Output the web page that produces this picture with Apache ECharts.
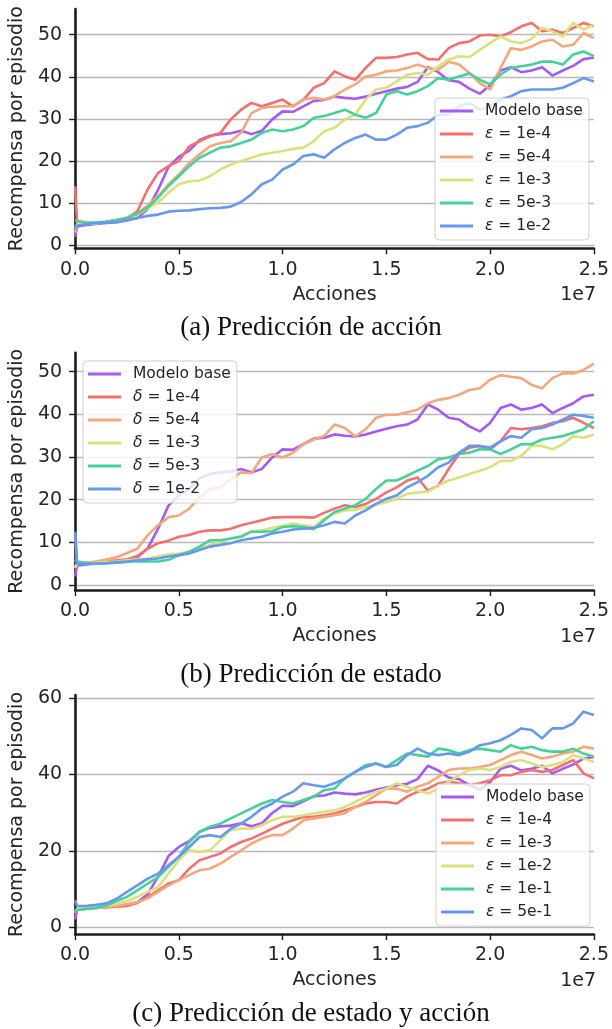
<!DOCTYPE html>
<html>
<head>
<meta charset="utf-8">
<script src="https://cdn.jsdelivr.net/npm/echarts@6/dist/echarts.min.js"></script>
<style>
  html, body { margin: 0; padding: 0; background: #fff; }
  #chart { width: 612px; height: 1029px; }
</style>
</head>
<body>
<div id="chart"></div>
<script>
// ---------------- DATA ----------------
// x positions (in units of 1e7 actions)
const X_VALUES = [0, 0.01, 0.05, 0.1, 0.15, 0.2, 0.25, 0.3, 0.35, 0.4, 0.45, 0.5, 0.55, 0.6, 0.65, 0.7, 0.75, 0.8, 0.85, 0.9, 0.95,
  1.0, 1.05, 1.1, 1.15, 1.2, 1.25, 1.3, 1.35, 1.4, 1.45, 1.5, 1.55, 1.6, 1.65, 1.7, 1.75, 1.8, 1.85, 1.9, 1.95,
  2.0, 2.05, 2.1, 2.15, 2.2, 2.25, 2.3, 2.35, 2.4, 2.45, 2.5];

const X_TICKS = [0, 0.5, 1.0, 1.5, 2.0, 2.5];
const Y_TICKS_A = [0, 10, 20, 30, 40, 50];
const Y_TICKS_B = [0, 10, 20, 30, 40, 50];
const Y_TICKS_C = [0, 20, 40, 60];

const CAPTIONS = ['(a) Predicción de acción', '(b) Predicción de estado', '(c) Predicción de estado y acción'];
const X_NAME = 'Acciones';
const Y_NAME = 'Recompensa por episodio';
const X_OFFSET_TEXT = '1e7';

const LABELS_A = ['Modelo base', 'ε = 1e-4', 'ε = 5e-4', 'ε = 1e-3', 'ε = 5e-3', 'ε = 1e-2'];
const LABELS_B = ['Modelo base', 'δ = 1e-4', 'δ = 5e-4', 'δ = 1e-3', 'δ = 5e-3', 'δ = 1e-2'];
const LABELS_C = ['Modelo base', 'ε = 1e-4', 'ε = 1e-3', 'ε = 1e-2', 'ε = 1e-1', 'ε = 5e-1'];

// Modelo base (shared by the three panels)
const BASE = [2, 4.5, 4.8, 5.1, 5.3, 5.5, 5.9, 6.5, 8.6, 13.2, 18.6, 21, 22.5, 25, 26, 26.4, 26.6, 27.2, 26.4, 27.2, 29.9,
  31.8, 31.7, 33, 34.3, 34.5, 35.3, 35, 34.8, 35.3, 36, 36.6, 37.2, 37.6, 38.8, 42.3, 41.1, 39.2, 38.8, 37.2, 36,
  38, 41.5, 42.3, 41.1, 41.5, 42.3, 40.3, 41.5, 42.6, 44.2, 44.6];

// (a) Predicción de acción
const A_1E4 = [14, 5, 5.1, 5.3, 5.6, 6, 6.5, 8.1, 13.3, 17.2, 18.8, 20, 23.5, 24.7, 25.9, 26.7, 29.9, 32.2, 33.8, 33, 33.8,
  34.6, 33, 34.6, 37.4, 38.5, 41.3, 40.1, 39.3, 42.1, 44.5, 44.5, 44.7, 45.3, 45.7, 44.2, 44.1, 46.8, 48, 48.4, 49.8,
  50, 49.6, 50.6, 52, 52.8, 50.8, 51.2, 50.4, 51.6, 52.8, 52];
const A_5E4 = [3, 5, 5.1, 5.3, 5.6, 6, 6.6, 7.5, 9.5, 11.7, 14.5, 16.8, 19.6, 21.6, 23.5, 24.3, 24.7, 26.7, 31.4, 32.6, 32.9,
  33, 33, 34.6, 35, 34.6, 35.4, 37, 38.2, 40.1, 40.5, 41.3, 41.5, 42.1, 42.9, 42.1, 41.7, 43.6, 42.9, 40.9, 38.5,
  37, 42.1, 46.8, 46.4, 47.2, 48.4, 48.8, 47.2, 47.6, 50.4, 49.2];
const A_1E3 = [4, 5, 5.1, 5.2, 5.6, 6, 6.5, 7.2, 8.8, 10.2, 12.5, 14.5, 15.2, 15.4, 16.4, 18, 19.2, 20, 20.8, 21.6, 22,
  22.4, 22.9, 23.2, 24.7, 27.1, 27.9, 29.9, 31, 34.6, 37, 37.4, 38.9, 40.5, 40.9, 40.5, 42.5, 44.1, 44.9, 44.7, 46.4,
  48, 49.6, 48.4, 48, 49, 51.6, 50.8, 49.6, 52.8, 51.2, 52.4];
const A_5E3 = [6, 5.8, 5.5, 5.4, 5.6, 6, 6.5, 7.5, 9, 11.3, 14.1, 16.4, 18.8, 20.8, 22, 23.2, 23.5, 24.3, 25.1, 26.7, 27.5,
  27.1, 27.5, 28.3, 30.3, 30.7, 31.4, 32.2, 31, 30.3, 31.4, 35.8, 36.6, 35.8, 36.6, 37.8, 39.7, 39.3, 40.1, 40.8, 39.3,
  38.2, 40.5, 42.1, 42.5, 42.9, 43.6, 43.6, 42.9, 45.3, 46, 44.9];
const A_1E2 = [4, 4.7, 5, 5.3, 5.4, 5.5, 6, 6.5, 7, 7.3, 8, 8.2, 8.3, 8.6, 8.8, 8.9, 9.2, 10.3, 12.1, 14.5, 15.6,
  18, 19.2, 21.2, 21.6, 20.8, 22.8, 24.3, 25.5, 26.3, 25.1, 25.1, 26.3, 27.9, 28.3, 29.1, 31, 31, 33, 33.8, 32.2,
  33, 34.6, 35.4, 36.6, 37, 37, 37, 37.4, 38.5, 39.7, 38.9];

// (b) Predicción de estado
const B_1E4 = [12, 5, 5, 5.2, 5.5, 5.8, 6, 6.8, 8.5, 9.8, 10.4, 11.3, 11.7, 12.5, 12.8, 12.8, 13.2, 14, 14.6, 15.2, 15.8,
  15.9, 15.9, 15.9, 15.8, 16.9, 17.9, 18.7, 18.3, 19, 20.2, 21.7, 22.9, 24.5, 25.2, 22.1, 23.3, 27.2, 30.7, 32.2, 32.6,
  31.8, 33.7, 36.8, 36.5, 36.8, 37.2, 38, 38.4, 39.2, 38, 36.8];
const B_5E4 = [4, 5, 5.2, 5.5, 6, 6.5, 7.5, 8.5, 11.7, 14, 15.9, 16.3, 17.9, 20.6, 22.5, 22.9, 24.8, 26.4, 26.2, 29.9, 30.7,
  29.9, 31, 33, 34.1, 34.9, 37.6, 36.8, 34.8, 36.5, 39.2, 39.9, 39.9, 40.5, 41.1, 42.6, 43.4, 43.8, 44.6, 45.7, 46.1,
  48.1, 49.2, 48.8, 48.5, 46.9, 46.1, 48.5, 49.6, 49.6, 50.4, 51.9];
const B_1E3 = [4, 5, 5.1, 5.2, 5.4, 5.5, 5.8, 6, 6.2, 6.7, 7.2, 7.4, 7.8, 8.6, 9.4, 10.1, 10.9, 11.5, 12.6, 12.8, 13.4,
  13.9, 14.4, 14, 13.6, 15.6, 16.7, 17.5, 17.6, 18.3, 18.8, 19.4, 20.2, 21.4, 21.7, 21.9, 23.3, 24.5, 25.2, 26, 26.8,
  27.6, 29.1, 29.1, 30.3, 32.6, 32.6, 31.8, 33, 34.9, 34.5, 35.3];
const B_5E3 = [6, 5.5, 5.2, 5, 5.1, 5.2, 5.4, 5.6, 5.5, 5.5, 5.9, 7, 7.8, 9, 10.5, 10.5, 10.9, 11.3, 12.5, 12.5, 12.6,
  13.6, 13.8, 13.6, 13.1, 15.2, 17.1, 17.9, 18.7, 20.2, 22.5, 24.5, 24.5, 25.6, 26.8, 27.9, 29.5, 29.9, 30.7, 31, 31.8,
  31.8, 30.7, 31.8, 33, 33, 34.1, 34.5, 34.9, 35.7, 36.5, 38.4];
const B_1E2 = [12.5, 5, 4.9, 5, 5.1, 5.3, 5.5, 5.8, 6, 6.2, 6.7, 7, 7.4, 8.2, 9, 9.4, 9.8, 10.5, 10.9, 11.3, 12.1,
  12.5, 13, 13.2, 13.4, 14, 14.8, 14.4, 16.3, 17.5, 19, 20.2, 21, 22.9, 24.1, 25.6, 27.6, 28.7, 31, 32.6, 32.6,
  32.2, 33.7, 34.9, 34.5, 36.5, 36.8, 37.6, 38.8, 39.9, 39.6, 39.2];

// (c) Predicción de estado y acción
const C_1E4 = [3.5, 4.5, 4.7, 5, 5.1, 5.3, 5.5, 6.3, 7.9, 9.6, 11.4, 12.3, 15.3, 17.5, 18.4, 19.3, 21, 22.3, 23.2, 24.5, 25.8,
  27.1, 28, 28.9, 28.9, 29.3, 29.8, 30.6, 31.5, 32.4, 32.8, 32.8, 32.4, 34.2, 35.5, 36.3, 37.7, 38.1, 37.7, 37.2, 37.7,
  38.5, 39.8, 39.8, 40.7, 41.2, 40.7, 41.2, 42.5, 43.8, 40.3, 39];
const C_1E3 = [4, 4.5, 4.8, 5, 5.2, 5.5, 6, 6.5, 7.5, 9.2, 10.9, 12.3, 13.6, 14.9, 15.3, 16.6, 18.4, 20.1, 21.9, 23.2, 24.1,
  24.1, 25.8, 28, 28.5, 28.9, 29.3, 29.8, 31.5, 32.8, 34.6, 36.3, 36.3, 35.5, 36.8, 37.7, 39.4, 41.2, 41.6, 41.6, 42,
  42.5, 43.8, 45.1, 46, 45.1, 44.2, 44.7, 45.5, 46, 47.3, 46.8];
const C_1E2 = [4, 4.8, 5, 5.2, 5.6, 6, 6.8, 7.9, 9.2, 10.5, 14, 17.5, 20.1, 19.7, 20.1, 22.8, 25.4, 25.8, 25.8, 26.7, 28,
  28.9, 28.9, 29.3, 29.8, 30.2, 30.6, 31.5, 32.8, 34.2, 35.5, 36.3, 37.7, 36.8, 35.9, 35, 36.3, 38.1, 39.8, 41.2, 41.6,
  41.2, 42, 43.3, 43.8, 42.9, 42, 42.5, 43.3, 45.1, 44.2, 43.3];
const C_1E1 = [4, 4.5, 4.7, 5, 5.6, 6.8, 7.9, 9.6, 11.4, 13.1, 15.8, 18.4, 22.3, 25, 26.3, 27.1, 28.5, 29.8, 31.1, 32.4, 33.3,
  32.8, 32.4, 33.3, 34.2, 35.9, 36.3, 39, 40.7, 42.5, 42.9, 42, 43.8, 45.5, 45.1, 44.7, 46.8, 46.4, 45.5, 46.4, 46.8,
  46.4, 46, 47.7, 46.8, 47.3, 46.4, 46, 46, 46.8, 45.5, 44.7];
const C_5E1 = [7, 5.5, 5.5, 5.8, 6.2, 7.4, 9.2, 10.9, 12.7, 14, 16.2, 18.4, 21, 23.6, 24.1, 23.6, 25.8, 27.1, 28.9, 31.1, 32.4,
  34.2, 35.5, 37.7, 37.2, 36.8, 37.7, 39, 40.7, 42, 42.9, 42, 42.5, 45.1, 46.8, 45.5, 45.1, 45.5, 45.1, 46, 47.7,
  48.2, 49, 50.4, 52.1, 51.7, 49.5, 52.1, 52.1, 53.4, 56.5, 55.6];

const COLORS = ['#A55AF4', '#F2706E', '#F4A77C', '#DCE07C', '#47D19A', '#6699EE'];

const PANELS = [
  { labels: LABELS_A, data: [BASE, A_1E4, A_5E4, A_1E3, A_5E3, A_1E2], ticks: Y_TICKS_A },
  { labels: LABELS_B, data: [BASE, B_1E4, B_5E4, B_1E3, B_5E3, B_1E2], ticks: Y_TICKS_B },
  { labels: LABELS_C, data: [BASE, C_1E4, C_1E3, C_1E2, C_1E1, C_5E1], ticks: Y_TICKS_C }
];

// ---------------- LAYOUT / STYLE ----------------
const LAYOUT = [
  { top: 9, height: 239.3, ymin: -0.7, ymax: 56.1, split: 5, legend: { left: 435, top: 98 }, cap: 328, off: 295 },
  { top: 352.7, height: 237.3, ymin: -1.17, ymax: 54.45, split: 5, legend: { left: 83, top: 361 }, cap: 675, off: 637 },
  { top: 695, height: 239, ymin: -1.84, ymax: 60.87, split: 3, legend: { left: 436, top: 784 }, cap: 1014, off: 981 }
];
const TXT = '#262626';
const SPINE = '#1c1c1c';
const SANS = 'DejaVu Sans';

const ZW = '\u200b';
const grids = [], xAxes = [], yAxes = [], legends = [], series = [], graphics = [];

PANELS.forEach((p, i) => {
  const L = LAYOUT[i];
  grids.push({ left: 75, width: 522, top: L.top, height: L.height });
  xAxes.push({
    type: 'value', gridIndex: i, min: 0, max: 2.5, interval: 0.5,
    name: X_NAME, nameLocation: 'middle', nameGap: 37,
    nameTextStyle: { fontFamily: SANS, fontSize: 19, color: TXT },
    axisLine: { show: true, onZero: false, lineStyle: { color: SPINE, width: 2.6 } },
    axisTick: { show: true, inside: false, length: 6, lineStyle: { color: SPINE, width: 1.4 }, customValues: X_TICKS },
    axisLabel: { fontFamily: SANS, fontSize: 19, color: TXT, margin: 12, customValues: X_TICKS,
      formatter: v => v.toFixed(1) },
    splitLine: { show: false }
  });
  yAxes.push({
    type: 'value', gridIndex: i, min: L.ymin, max: L.ymax, splitNumber: L.split,
    name: Y_NAME, nameLocation: 'middle', nameGap: 45,
    nameTextStyle: { fontFamily: SANS, fontSize: 19, color: TXT },
    axisLine: { show: true, onZero: false, lineStyle: { color: SPINE, width: 2.6 } },
    axisTick: { show: true, inside: false, length: 6, lineStyle: { color: SPINE, width: 1.4 }, customValues: p.ticks },
    axisLabel: { fontFamily: SANS, fontSize: 19, color: TXT, margin: 13, customValues: p.ticks },
    splitLine: { show: true, lineStyle: { color: '#b9b9b9', width: 1.3 } }
  });
  const names = p.labels.map(l => l + ZW.repeat(i + 1));
  names.forEach((nm, k) => {
    series.push({
      type: 'line', name: nm, xAxisIndex: i, yAxisIndex: i,
      data: X_VALUES.map((x, j) => [x, p.data[k][j]]),
      showSymbol: false, symbol: 'none', smooth: false, silent: true,
      color: COLORS[k],
      lineStyle: { color: COLORS[k], width: 2.6, join: 'round' },
      z: 2 + k * 0.01
    });
  });
  legends.push({
    data: names, orient: 'vertical', left: L.legend.left, top: L.legend.top,
    icon: 'rect', itemWidth: 33, itemHeight: 3.2, itemGap: 7,
    padding: [5, 6, 6, 5],
    backgroundColor: 'rgba(255,255,255,0.8)', borderColor: '#d0d0d0', borderWidth: 1, borderRadius: 4,
    selectedMode: false,
    formatter: nm => {
      const s = nm.replace(/\u200b/g, '');
      const c = s.charAt(0);
      if (c === 'ε' || c === 'δ') return '{g|' + c + '}' + s.slice(1);
      return s;
    },
    textStyle: {
      fontFamily: SANS, fontSize: 15.5, color: TXT, lineHeight: 16, padding: [0, 0, 0, 7],
      rich: { g: { fontFamily: SANS, fontStyle: 'italic', fontSize: 15.5, color: TXT, lineHeight: 16 } }
    }
  });
  graphics.push({
    type: 'text', x: 596, y: L.off, silent: true,
    style: { text: X_OFFSET_TEXT, fontFamily: SANS, fontSize: 19, fill: TXT, align: 'right', verticalAlign: 'middle' }
  });
  graphics.push({
    type: 'text', x: 311, y: L.cap, silent: true,
    style: { text: CAPTIONS[i], fontFamily: 'Liberation Serif', fontSize: 27, fill: '#111', align: 'center', verticalAlign: 'middle' }
  });
});

const chart = echarts.init(document.getElementById('chart'), null, { renderer: 'canvas' });
chart.setOption({
  animation: false,
  backgroundColor: '#ffffff',
  grid: grids,
  xAxis: xAxes,
  yAxis: yAxes,
  legend: legends,
  series: series,
  graphic: graphics
});
</script>
</body>
</html>
